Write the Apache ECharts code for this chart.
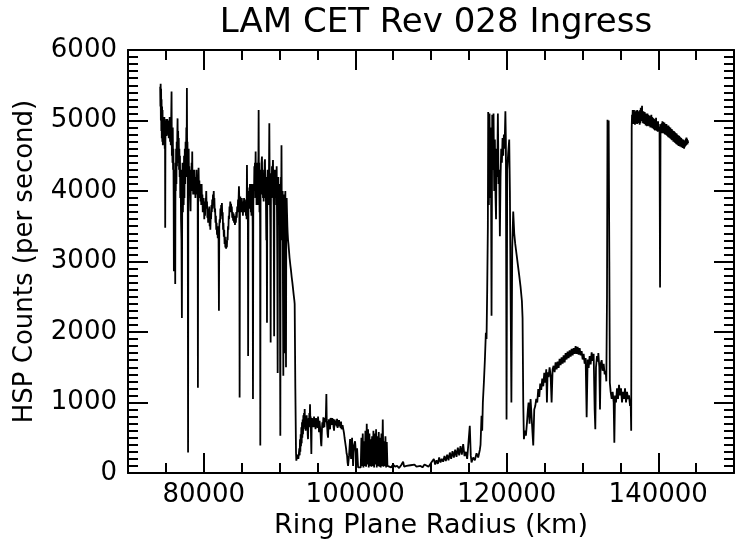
<!DOCTYPE html>
<html><head><meta charset="utf-8">
<script src="https://cdn.jsdelivr.net/npm/echarts@6/dist/echarts.min.js"></script>
<style>html,body{margin:0;padding:0;background:#fff}#c{width:736px;height:541px}</style>
</head><body><div id="c"></div>
<script>
// Ring plane radius (km) and HSP counts (per second)
// Section A: inner region (C ring / inner B ring), 74 000 - 92 200 km
const radiusA = [74250,74280,74310,74340,74370,74400,74430,74460,74500,74530,74560,74600,74640,74680,74720,74760,74800,74850,74890,74912,74940,74980,75020,75060,75100,75140,75180,75220,75260,75300,75340,75380,75420,75460,75500,75550,75600,75650,75700,75750,75790,75830,75870,75910,75950,75990,76030,76057,76090,76130,76170,76210,76233,76270,76310,76350,76390,76430,76470,76510,76545,76580,76620,76660,76700,76740,76780,76820,76860,76900,76950,77000,77060,77114,77160,77200,77250,77300,77350,77400,77450,77500,77550,77600,77650,77700,77740,77775,77810,77850,77890,77930,77970,78010,78050,78090,78130,78170,78210,78260,78300,78350,78400,78440,78480,78520,78560,78600,78650,78700,78750,78800,78850,78900,78950,79000,79050,79100,79150,79200,79229,79260,79317,79370,79420,79470,79520,79570,79620,79670,79720,79770,79820,79870,79920,79970,80020,80070,80120,80170,80220,80270,80330,80380,80430,80480,80530,80580,80630,80680,80730,80780,80830,80870,80920,80970,81020,81070,81120,81170,81220,81270,81320,81360,81400,81450,81500,81550,81600,81650,81700,81750,81800,81850,81900,81950,82004,82050,82100,82150,82200,82250,82300,82350,82400,82450,82500,82550,82600,82650,82700,82750,82800,82850,82900,82950,83000,83050,83100,83150,83200,83250,83300,83350,83400,83450,83500,83550,83600,83650,83700,83760,83820,83880,83940,84000,84060,84120,84180,84240,84300,84360,84420,84480,84530,84580,84647,84700,84735,84780,84823,84870,84920,84970,85020,85070,85120,85170,85220,85270,85320,85370,85420,85470,85520,85570,85616,85660,85704,85750,85792,85830,85858,85900,85940,85980,86020,86060,86100,86140,86180,86220,86260,86300,86340,86380,86420,86460,86497,86540,86585,86630,86680,86720,86760,86800,86850,86890,86930,86970,87010,87050,87100,87140,87180,87220,87246,87280,87320,87360,87400,87440,87466,87500,87540,87580,87630,87686,87730,87780,87820,87870,87910,87951,87990,88040,88083,88130,88170,88215,88260,88300,88347,88390,88435,88480,88523,88570,88620,88656,88700,88744,88790,88832,88870,88920,88960,89008,89050,89100,89140,89180,89228,89260,89294,89330,89360,89400,89450,89492,89540,89580,89625,89670,89710,89757,89800,89845,89890,89933,89980,90021,90060,90109,90150,90197,90230,90263,90300,90329,90370,90417,90460,90505,90550,90594,90640,90682,90720,90770,90810,90858,90900,90946,90990,91040,91078,91130,91180,91254,91330,91431,91520,91607,91700,91783,91870,91960,92003,92091,92180];
const countsA = [5480,5200,5520,5000,5450,4850,5300,4750,5200,4700,5150,4650,5050,4850,5000,4750,5050,4600,4800,3480,4700,5000,4800,5020,4780,4950,5020,4820,4950,4800,5000,4750,4950,4800,5050,4700,4900,4650,5000,5410,4500,4800,4400,4900,4300,4600,3900,2860,4200,3800,4300,3500,2680,4400,4000,4600,4100,4700,4350,4800,5030,4500,4850,4400,4750,4300,4600,4200,4500,3900,4300,3600,3300,2200,4000,4400,3700,4300,3800,4500,3900,4600,4100,4700,4200,4900,4300,5460,4400,4700,4100,290,4400,4600,4100,4350,4050,4300,3900,3712,4200,4000,4400,4100,4560,4000,4300,3950,4250,4000,4300,3950,4200,3900,4200,4000,4300,3950,4200,3900,1210,4000,4330,3950,4150,3900,4100,3850,4050,3800,4100,3800,3950,3700,3900,3700,3850,3600,3800,3650,3900,3800,4000,3750,3850,3620,3750,3550,3700,3580,3780,3500,3600,3450,3650,3600,3800,3700,3880,3750,3950,3850,4000,3800,3900,3700,3750,3550,3650,3450,3550,3380,3480,3330,3500,3400,2300,3500,3600,3550,3750,3650,3800,3700,3830,3600,3700,3450,3550,3350,3450,3250,3350,3200,3300,3180,3280,3200,3350,3300,3500,3450,3650,3600,3780,3700,3850,3760,3820,3700,3780,3620,3700,3580,3680,3550,3650,3520,3620,3550,3700,3620,3780,3700,3880,3800,4066,3850,1070,3800,3920,3700,3850,3700,3900,3750,3850,3650,3800,3700,3900,3750,3880,3700,3850,3650,3800,3600,4370,3700,3950,3500,1660,3800,4000,3750,4050,3800,4100,3800,4000,3700,3950,3650,4100,3800,4000,3500,1050,3800,4100,3900,4350,4000,4400,4100,4560,3900,4300,3800,4200,3900,4400,3800,4300,4500,5150,4100,4400,3700,4200,3500,390,3900,4300,4000,4400,4490,3950,4300,3900,4250,3850,4200,3900,4400,4450,3900,4200,3800,3300,4000,2130,4100,4300,3900,4200,3800,4400,4960,4200,3900,3500,1850,4000,4250,3900,4350,4000,4300,4440,4000,3800,3000,1940,4000,4300,3900,4200,4000,4300,3800,4350,3700,3000,1420,3900,4200,3800,4000,3600,4100,2500,530,3800,4200,3900,4650,3700,4000,3300,4000,2500,1380,3800,3950,2800,1700,3800,4000,3000,1500,3800,3900,3700,3500,3400,3300,3250,3150,3050,2950,2870,2780,2700,2620,2530,2450,2400,1200,290];
// Section B: low-count region, 92 200 - 116 500 km
const radiusB = [92223,92300,92356,92420,92488,92560,92620,92664,92708,92752,92796,92840,92884,92928,92972,93016,93060,93105,93149,93193,93237,93281,93325,93369,93413,93457,93501,93545,93589,93633,93677,93721,93765,93809,93853,93897,93941,93985,94030,94074,94118,94162,94206,94250,94294,94360,94426,94492,94558,94624,94690,94756,94822,94888,94955,95021,95087,95153,95219,95285,95351,95417,95483,95527,95571,95615,95659,95725,95791,95857,95924,95990,96056,96122,96188,96232,96276,96342,96408,96474,96540,96606,96673,96739,96805,96871,96937,97003,97069,97135,97201,97267,97333,97399,97465,97531,97597,97663,97730,97796,97862,97928,97994,98060,98126,98192,98258,98324,98390,98456,98522,98588,98655,98721,98787,98853,98919,98985,99051,99183,99316,99448,99580,99712,99844,99976,100108,100241,100373,100505,100637,100725,100813,100901,100990,101078,101166,101254,101342,101430,101518,101607,101695,101783,101871,101959,102047,102135,102223,102311,102399,102488,102576,102664,102752,102840,102928,103016,103104,103192,103280,103368,103457,103545,103633,103721,103809,103897,103985,104073,104161,104249,104469,104733,104998,105262,105527,105791,106055,106320,106452,106760,107024,107289,107553,107817,108082,108346,108610,108875,109139,109403,109668,109932,110196,110372,110548,110725,110901,111077,111253,111429,111605,111781,111958,112134,112310,112486,112662,112838,113014,113191,113367,113543,113719,113895,114071,114247,114424,114600,114776,114908,115120,115250,115349,115569,115789,116010,116230,116450];
const countsB = [175,230,200,260,200,280,350,250,480,300,550,380,650,420,720,500,760,550,820,620,850,700,906,650,800,600,780,680,820,650,760,550,480,700,780,650,850,700,976,720,800,500,270,700,780,680,760,650,800,700,760,620,780,680,760,640,800,700,580,740,650,560,420,380,360,650,720,640,790,680,650,780,720,820,1120,760,680,560,500,720,760,650,620,780,740,680,780,700,770,650,600,760,780,680,740,660,770,640,620,720,750,660,720,640,730,620,600,680,700,600,560,500,450,400,350,280,250,150,100,250,480,200,500,100,390,450,250,350,80,100,70,80,500,100,560,80,450,100,600,90,700,120,620,80,560,100,480,90,520,100,600,80,560,120,620,80,520,100,580,90,500,80,560,100,760,90,450,100,520,80,440,100,110,80,120,90,100,70,110,160,90,100,80,110,90,120,90,110,100,80,120,100,90,130,110,200,120,180,130,220,150,200,160,240,170,260,180,290,200,310,220,330,230,360,250,380,260,410,240,300,200,200,670,250,150,220,180,280,220,330];
// Section C: B ring edge and inner A ring, 116 500 - 132 000 km
const radiusC = [116538,116670,116758,116846,116979,117111,117243,117331,117419,117507,117551,117639,117727,117815,117904,117992,118080,118168,118256,118344,118432,118520,118586,118652,118741,118829,118917,119005,119093,119181,119269,119357,119445,119534,119622,119710,119820,119886,119974,120062,120195,120327,120415,120503,120613,120723,120855,120987,121119,121296,121472,121648,121824,122000,122088,122177,122265,122397,122529,122661,122793,122881,123013,123145,123278,123410,123498,123630,123762,123894,124026,124159,124291,124423,124555,124687,124819,124952,125084,125216,125304,125392,125524,125656,125789,125921,126053,126185,126317,126449,126582,126714,126846,126978,127110,127243,127375,127507,127639,127771,127903,128036,128168,128300,128432,128564,128697,128829,128961,129093,129225,129357,129490,129622,129754,129886,130018,130150,130283,130415,130547,130679,130811,130944,131076,131208,131340,131472,131604,131692,131781,131913,132045];
const countsC = [400,810,600,1000,1280,1600,1990,1900,2600,3500,5120,3800,5100,3900,4900,2230,5080,4300,5100,4000,4730,3900,3600,4600,4200,5100,4100,4300,3360,4200,4600,4400,4750,4500,4800,4600,5130,4700,760,4300,4550,4730,4000,2600,1000,3200,3710,3400,3250,3100,2950,2800,2640,2440,2200,1000,480,600,530,700,900,1000,700,1050,800,550,390,900,950,1050,1000,1190,1080,1270,1180,1340,1230,1420,1280,1470,1000,1430,1360,1500,1390,1000,1470,1520,1430,1570,1470,1580,1490,1620,1530,1640,1550,1670,1570,1700,1610,1720,1630,1740,1650,1760,1670,1770,1690,1800,1690,1790,1680,1770,1670,1730,1610,1690,1550,1630,790,1610,1490,1660,1540,1710,1590,1690,900,620,1500,1660,1580];
// Section D: outer A ring, 132 000 - 144 000 km
const radiusD = [132089,132221,132309,132397,132529,132661,132794,132926,133058,133146,133234,133300,133366,133454,133542,133608,133719,133851,133983,134115,134203,134291,134423,134556,134688,134820,134952,135084,135216,135348,135480,135613,135745,135877,136009,136141,136273,136362,136428,136494,136540,136582,136630,136670,136714,136760,136800,136846,136890,136930,136978,137020,137070,137111,137160,137200,137243,137290,137330,137375,137420,137460,137507,137550,137600,137639,137690,137730,137771,137820,137859,137900,137950,137991,138040,138080,138124,138170,138210,138256,138300,138340,138388,138430,138480,138520,138570,138610,138652,138700,138740,138784,138830,138870,138917,138960,139000,139049,139090,139140,139181,139230,139270,139313,139360,139400,139445,139490,139530,139577,139620,139660,139710,139750,139800,139842,139890,139930,139974,140020,140060,140106,140170,140238,140300,140370,140410,140460,140502,140550,140590,140635,140680,140720,140767,140810,140850,140899,140940,140990,141031,141080,141120,141163,141210,141250,141295,141340,141380,141428,141470,141510,141560,141600,141650,141692,141740,141780,141824,141870,141910,141956,142000,142050,142088,142130,142180,142221,142270,142310,142353,142400,142440,142485,142530,142570,142617,142660,142700,142749,142790,142840,142881,142930,142970,143014,143060,143100,143146,143190,143230,143278,143320,143360,143410,143450,143500,143542,143590,143630,143674,143720,143760,143806,143850,143900,143939];
const countsD = [1700,1500,900,1550,1600,1450,1550,1400,1450,1300,2500,5010,4700,5000,3000,1280,1150,1050,1150,1000,430,1100,1000,1200,1050,1250,1100,1200,1000,1150,1050,1200,1000,1150,1050,1100,950,1000,600,4890,5080,4950,5150,4980,5120,4950,5150,4970,5100,4940,5120,4960,5140,4970,5100,4950,5150,4990,5120,4960,5130,4980,5100,4940,5150,4960,5180,5000,5150,4990,5210,5000,5120,4960,5130,4990,5100,4950,5120,4960,5080,4930,5100,4940,5060,4920,5100,4950,5080,4930,5060,4920,5070,4940,5050,4900,5060,4900,5080,4920,5050,4890,5040,4900,5030,4880,5020,4870,5000,4860,5010,4880,5040,4870,4990,4850,4980,4840,4990,4850,4950,4840,4900,2630,4880,4950,4820,4960,4820,4990,4840,4980,4820,4960,4830,4970,4810,4950,4800,4940,4800,4950,4790,4930,4780,4920,4770,4930,4760,4910,4760,4900,4750,4900,4740,4880,4730,4880,4720,4860,4720,4850,4700,4850,4700,4840,4690,4830,4680,4820,4670,4820,4660,4800,4660,4790,4650,4790,4640,4780,4640,4770,4630,4760,4640,4750,4620,4740,4620,4730,4610,4730,4620,4720,4600,4700,4620,4720,4640,4740,4650,4760,4660,4740,4660,4720,4680];

const radius = radiusA.concat(radiusB, radiusC, radiusD);
const counts = countsA.concat(countsB, countsC, countsD);
const points = radius.map((r, i) => [r, counts[i]]);

const FONT = 'DejaVu Sans';
const black = '#000';
function xAxisDef(pos, withLabels) {
  return {
    type: 'value', position: pos, min: 70000, max: 150000, splitNumber: 4,
    splitLine: {show: false},
    axisLine: {show: true, onZero: false, lineStyle: {color: black, width: 2}},
    axisTick: {show: true, inside: true, length: 20, lineStyle: {color: black, width: 2}},
    minorTick: {show: true, splitNumber: 4, length: 10, lineStyle: {color: black, width: 2}},
    minorSplitLine: {show: false},
    axisLabel: {show: withLabels, color: black, fontSize: 26, fontFamily: FONT, margin: 9,
      showMinLabel: false, showMaxLabel: false,
      formatter: v => (v === 70000 || v === 150000) ? '' : String(v)},
    name: withLabels ? 'Ring Plane Radius (km)' : '',
    nameLocation: 'middle', nameGap: 36,
    nameTextStyle: {color: black, fontSize: 27, fontFamily: FONT}
  };
}
function yAxisDef(pos, withLabels) {
  return {
    type: 'value', position: pos, min: 0, max: 6000, interval: 1000,
    splitLine: {show: false},
    axisLine: {show: true, onZero: false, lineStyle: {color: black, width: 2}},
    axisTick: {show: true, inside: true, length: 20, lineStyle: {color: black, width: 2}},
    minorTick: {show: true, splitNumber: 10, length: 10, lineStyle: {color: black, width: 2}},
    minorSplitLine: {show: false},
    axisLabel: {show: withLabels, color: black, fontSize: 26, fontFamily: FONT, margin: 11,
      formatter: v => String(v)},
    name: withLabels ? 'HSP Counts (per second)' : '',
    nameLocation: 'middle', nameGap: 90, nameRotate: 90,
    nameTextStyle: {color: black, fontSize: 26, fontFamily: FONT}
  };
}

const chart = echarts.init(document.getElementById('c'), null, {renderer: 'canvas'});
chart.setOption({
  animation: false,
  backgroundColor: '#fff',
  title: {text: 'LAM CET Rev 028 Ingress', left: 431, textAlign: 'center', top: 1,
    textStyle: {color: black, fontSize: 34, fontWeight: 'normal', fontFamily: FONT}},
  grid: {left: 128, right: 2, top: 50, bottom: 68, containLabel: false, outerBoundsMode: 'none'},
  xAxis: [xAxisDef('bottom', true), xAxisDef('top', false)],
  yAxis: [yAxisDef('left', true), yAxisDef('right', false)],
  series: [{
    type: 'line', data: points, xAxisIndex: 0, yAxisIndex: 0,
    showSymbol: false, symbol: 'none', clip: true,
    lineStyle: {color: black, width: 1.8}
  }]
});
</script></body></html>
